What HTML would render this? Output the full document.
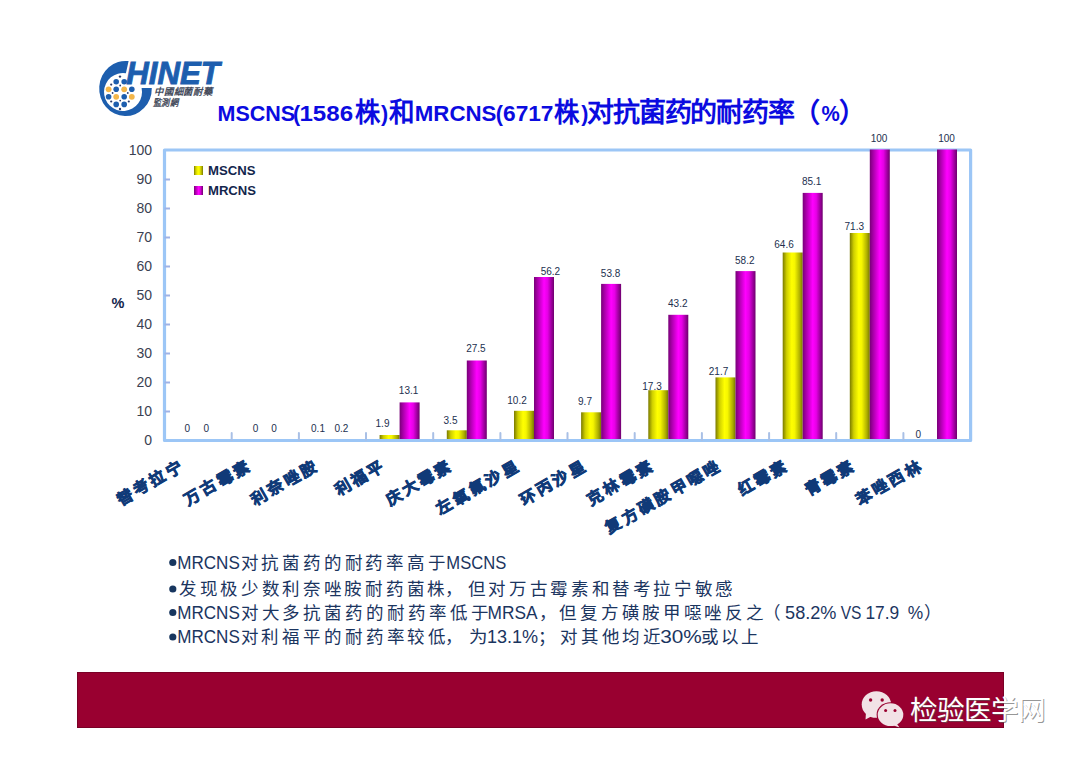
<!DOCTYPE html>
<html lang="zh-CN"><head><meta charset="utf-8">
<style>
html,body{margin:0;padding:0;}
body{width:1080px;height:760px;position:relative;overflow:hidden;background:#fff;font-family:"Liberation Sans",sans-serif;}
.abs{position:absolute;}
svg text{font-family:"Liberation Sans",sans-serif;}
svg text.yl{font-size:14px;fill:#3a4152;}
svg text.dl{font-size:10px;fill:#22304f;}
svg text.xl{font-size:15.7px;font-weight:bold;fill:#103a78;stroke:#103a78;stroke-width:0.7px;}
svg text.tl{font-size:21.5px;font-weight:bold;fill:#0b0be0;}
svg text.tc{font-size:27px;font-weight:bold;fill:#0b0be0;}
svg text.bl{font-size:17.5px;fill:#1b355f;}
svg text.bc{font-size:17.5px;font-weight:300;fill:#1b355f;}
#bar{left:76.8px;top:671.8px;width:927.2px;height:55.8px;box-sizing:border-box;border:1px solid #7a0026;background:#990030;}
#wm{left:910px;top:695px;font-size:27.5px;line-height:32px;color:#fff;text-shadow:1.3px 1.3px 0.6px rgba(90,90,90,.65);white-space:nowrap;}
</style></head><body>
<svg class="abs" style="left:0;top:0" width="1080" height="760" viewBox="0 0 1080 760">
<defs>
<linearGradient id="gy" x1="0" x2="1" y1="0" y2="0">
<stop offset="0" stop-color="#7a7a00"/><stop offset="0.2" stop-color="#cfcf00"/><stop offset="0.45" stop-color="#ffff00"/><stop offset="0.6" stop-color="#f6f600"/><stop offset="0.85" stop-color="#b0b000"/><stop offset="1" stop-color="#787800"/>
</linearGradient>
<linearGradient id="gm" x1="0" x2="1" y1="0" y2="0">
<stop offset="0" stop-color="#780078"/><stop offset="0.2" stop-color="#b000b0"/><stop offset="0.5" stop-color="#ff00ff"/><stop offset="0.68" stop-color="#e600e6"/><stop offset="0.88" stop-color="#9a009a"/><stop offset="1" stop-color="#6e006e"/>
</linearGradient>
</defs>
<rect x="164.5" y="150" width="806.1" height="290.5" fill="none" stroke="#9cc6f6" stroke-width="3.2" stroke-linejoin="round"/>
<rect x="312.4" y="440.2" width="20" height="-1.2" fill="url(#gy)"/>
<rect x="332.4" y="439.9" width="20" height="-0.9" fill="url(#gm)"/>
<rect x="379.6" y="435.0" width="20" height="4.0" fill="url(#gy)"/>
<rect x="399.6" y="402.4" width="20" height="36.6" fill="url(#gm)"/>
<rect x="446.8" y="430.3" width="20" height="8.7" fill="url(#gy)"/>
<rect x="466.8" y="360.5" width="20" height="78.5" fill="url(#gm)"/>
<rect x="514.0" y="410.8" width="20" height="28.2" fill="url(#gy)"/>
<rect x="534.0" y="277.0" width="20" height="162.0" fill="url(#gm)"/>
<rect x="581.1" y="412.3" width="20" height="26.7" fill="url(#gy)"/>
<rect x="601.1" y="283.9" width="20" height="155.1" fill="url(#gm)"/>
<rect x="648.3" y="390.2" width="20" height="48.8" fill="url(#gy)"/>
<rect x="668.3" y="314.8" width="20" height="124.2" fill="url(#gm)"/>
<rect x="715.5" y="377.4" width="20" height="61.6" fill="url(#gy)"/>
<rect x="735.5" y="271.1" width="20" height="167.9" fill="url(#gm)"/>
<rect x="782.7" y="252.5" width="20" height="186.5" fill="url(#gy)"/>
<rect x="802.7" y="192.9" width="20" height="246.1" fill="url(#gm)"/>
<rect x="849.8" y="233.0" width="20" height="206.0" fill="url(#gy)"/>
<rect x="869.8" y="149.5" width="20" height="289.5" fill="url(#gm)"/>
<rect x="937.0" y="149.5" width="20" height="289.5" fill="url(#gm)"/>
<line x1="231.7" y1="433" x2="231.7" y2="440" stroke="#a9c0e6" stroke-width="2" stroke-linecap="round"/>
<line x1="298.9" y1="433" x2="298.9" y2="440" stroke="#a9c0e6" stroke-width="2" stroke-linecap="round"/>
<line x1="366.0" y1="433" x2="366.0" y2="440" stroke="#a9c0e6" stroke-width="2" stroke-linecap="round"/>
<line x1="433.2" y1="433" x2="433.2" y2="440" stroke="#a9c0e6" stroke-width="2" stroke-linecap="round"/>
<line x1="500.4" y1="433" x2="500.4" y2="440" stroke="#a9c0e6" stroke-width="2" stroke-linecap="round"/>
<line x1="567.5" y1="433" x2="567.5" y2="440" stroke="#a9c0e6" stroke-width="2" stroke-linecap="round"/>
<line x1="634.7" y1="433" x2="634.7" y2="440" stroke="#a9c0e6" stroke-width="2" stroke-linecap="round"/>
<line x1="701.9" y1="433" x2="701.9" y2="440" stroke="#a9c0e6" stroke-width="2" stroke-linecap="round"/>
<line x1="769.1" y1="433" x2="769.1" y2="440" stroke="#a9c0e6" stroke-width="2" stroke-linecap="round"/>
<line x1="836.2" y1="433" x2="836.2" y2="440" stroke="#a9c0e6" stroke-width="2" stroke-linecap="round"/>
<line x1="903.4" y1="433" x2="903.4" y2="440" stroke="#a9c0e6" stroke-width="2" stroke-linecap="round"/>
<line x1="164.5" y1="411.5" x2="170" y2="411.5" stroke="#9fb3e6" stroke-width="2"/>
<line x1="164.5" y1="382.5" x2="170" y2="382.5" stroke="#9fb3e6" stroke-width="2"/>
<line x1="164.5" y1="353.5" x2="170" y2="353.5" stroke="#9fb3e6" stroke-width="2"/>
<line x1="164.5" y1="324.5" x2="170" y2="324.5" stroke="#9fb3e6" stroke-width="2"/>
<line x1="164.5" y1="295.5" x2="170" y2="295.5" stroke="#9fb3e6" stroke-width="2"/>
<line x1="164.5" y1="266.5" x2="170" y2="266.5" stroke="#9fb3e6" stroke-width="2"/>
<line x1="164.5" y1="237.5" x2="170" y2="237.5" stroke="#9fb3e6" stroke-width="2"/>
<line x1="164.5" y1="208.5" x2="170" y2="208.5" stroke="#9fb3e6" stroke-width="2"/>
<line x1="164.5" y1="179.5" x2="170" y2="179.5" stroke="#9fb3e6" stroke-width="2"/>
<text x="152" y="444.8" text-anchor="end" class="yl">0</text>
<text x="152" y="415.8" text-anchor="end" class="yl">10</text>
<text x="152" y="386.8" text-anchor="end" class="yl">20</text>
<text x="152" y="357.8" text-anchor="end" class="yl">30</text>
<text x="152" y="328.8" text-anchor="end" class="yl">40</text>
<text x="152" y="299.8" text-anchor="end" class="yl">50</text>
<text x="152" y="270.8" text-anchor="end" class="yl">60</text>
<text x="152" y="241.8" text-anchor="end" class="yl">70</text>
<text x="152" y="212.8" text-anchor="end" class="yl">80</text>
<text x="152" y="183.8" text-anchor="end" class="yl">90</text>
<text x="152" y="154.8" text-anchor="end" class="yl">100</text>
<text x="187.4" y="431.5" text-anchor="middle" class="dl">0</text>
<text x="255.6" y="431.5" text-anchor="middle" class="dl">0</text>
<text x="318" y="431.9" text-anchor="middle" class="dl">0.1</text>
<text x="382.5" y="426.7" text-anchor="middle" class="dl">1.9</text>
<text x="450.5" y="423.9" text-anchor="middle" class="dl">3.5</text>
<text x="517" y="403.8" text-anchor="middle" class="dl">10.2</text>
<text x="585" y="404.5" text-anchor="middle" class="dl">9.7</text>
<text x="652" y="390.0" text-anchor="middle" class="dl">17.3</text>
<text x="718.5" y="375.3" text-anchor="middle" class="dl">21.7</text>
<text x="784" y="247.6" text-anchor="middle" class="dl">64.6</text>
<text x="854.3" y="230.0" text-anchor="middle" class="dl">71.3</text>
<text x="918.4" y="437.7" text-anchor="middle" class="dl">0</text>
<text x="206.4" y="431.5" text-anchor="middle" class="dl">0</text>
<text x="274" y="431.5" text-anchor="middle" class="dl">0</text>
<text x="341.4" y="431.9" text-anchor="middle" class="dl">0.2</text>
<text x="408.6" y="394.3" text-anchor="middle" class="dl">13.1</text>
<text x="475.9" y="352.2" text-anchor="middle" class="dl">27.5</text>
<text x="550.4" y="274.5" text-anchor="middle" class="dl">56.2</text>
<text x="610.6" y="277.0" text-anchor="middle" class="dl">53.8</text>
<text x="677.8" y="306.8" text-anchor="middle" class="dl">43.2</text>
<text x="744.8" y="263.8" text-anchor="middle" class="dl">58.2</text>
<text x="811.7" y="184.5" text-anchor="middle" class="dl">85.1</text>
<text x="879" y="142.1" text-anchor="middle" class="dl">100</text>
<text x="946.5" y="142.0" text-anchor="middle" class="dl">100</text>
<text transform="translate(125.04,497.00) rotate(-30.0)" x="0" y="0" text-anchor="middle" dominant-baseline="central" class="xl">替</text>
<text transform="translate(141.32,487.60) rotate(-30.0)" x="0" y="0" text-anchor="middle" dominant-baseline="central" class="xl">考</text>
<text transform="translate(157.61,478.20) rotate(-30.0)" x="0" y="0" text-anchor="middle" dominant-baseline="central" class="xl">拉</text>
<text transform="translate(173.89,468.80) rotate(-30.0)" x="0" y="0" text-anchor="middle" dominant-baseline="central" class="xl">宁</text>
<text transform="translate(192.22,497.00) rotate(-30.0)" x="0" y="0" text-anchor="middle" dominant-baseline="central" class="xl">万</text>
<text transform="translate(208.50,487.60) rotate(-30.0)" x="0" y="0" text-anchor="middle" dominant-baseline="central" class="xl">古</text>
<text transform="translate(224.78,478.20) rotate(-30.0)" x="0" y="0" text-anchor="middle" dominant-baseline="central" class="xl">霉</text>
<text transform="translate(241.06,468.80) rotate(-30.0)" x="0" y="0" text-anchor="middle" dominant-baseline="central" class="xl">素</text>
<text transform="translate(259.39,497.00) rotate(-30.0)" x="0" y="0" text-anchor="middle" dominant-baseline="central" class="xl">利</text>
<text transform="translate(275.67,487.60) rotate(-30.0)" x="0" y="0" text-anchor="middle" dominant-baseline="central" class="xl">奈</text>
<text transform="translate(291.96,478.20) rotate(-30.0)" x="0" y="0" text-anchor="middle" dominant-baseline="central" class="xl">唑</text>
<text transform="translate(308.24,468.80) rotate(-30.0)" x="0" y="0" text-anchor="middle" dominant-baseline="central" class="xl">胺</text>
<text transform="translate(342.85,487.60) rotate(-30.0)" x="0" y="0" text-anchor="middle" dominant-baseline="central" class="xl">利</text>
<text transform="translate(359.13,478.20) rotate(-30.0)" x="0" y="0" text-anchor="middle" dominant-baseline="central" class="xl">福</text>
<text transform="translate(375.41,468.80) rotate(-30.0)" x="0" y="0" text-anchor="middle" dominant-baseline="central" class="xl">平</text>
<text transform="translate(393.74,497.00) rotate(-30.0)" x="0" y="0" text-anchor="middle" dominant-baseline="central" class="xl">庆</text>
<text transform="translate(410.02,487.60) rotate(-30.0)" x="0" y="0" text-anchor="middle" dominant-baseline="central" class="xl">大</text>
<text transform="translate(426.31,478.20) rotate(-30.0)" x="0" y="0" text-anchor="middle" dominant-baseline="central" class="xl">霉</text>
<text transform="translate(442.59,468.80) rotate(-30.0)" x="0" y="0" text-anchor="middle" dominant-baseline="central" class="xl">素</text>
<text transform="translate(444.64,506.40) rotate(-30.0)" x="0" y="0" text-anchor="middle" dominant-baseline="central" class="xl">左</text>
<text transform="translate(460.92,497.00) rotate(-30.0)" x="0" y="0" text-anchor="middle" dominant-baseline="central" class="xl">氧</text>
<text transform="translate(477.20,487.60) rotate(-30.0)" x="0" y="0" text-anchor="middle" dominant-baseline="central" class="xl">氟</text>
<text transform="translate(493.48,478.20) rotate(-30.0)" x="0" y="0" text-anchor="middle" dominant-baseline="central" class="xl">沙</text>
<text transform="translate(509.76,468.80) rotate(-30.0)" x="0" y="0" text-anchor="middle" dominant-baseline="central" class="xl">星</text>
<text transform="translate(528.09,497.00) rotate(-30.0)" x="0" y="0" text-anchor="middle" dominant-baseline="central" class="xl">环</text>
<text transform="translate(544.37,487.60) rotate(-30.0)" x="0" y="0" text-anchor="middle" dominant-baseline="central" class="xl">丙</text>
<text transform="translate(560.66,478.20) rotate(-30.0)" x="0" y="0" text-anchor="middle" dominant-baseline="central" class="xl">沙</text>
<text transform="translate(576.94,468.80) rotate(-30.0)" x="0" y="0" text-anchor="middle" dominant-baseline="central" class="xl">星</text>
<text transform="translate(595.27,497.00) rotate(-30.0)" x="0" y="0" text-anchor="middle" dominant-baseline="central" class="xl">克</text>
<text transform="translate(611.55,487.60) rotate(-30.0)" x="0" y="0" text-anchor="middle" dominant-baseline="central" class="xl">林</text>
<text transform="translate(627.83,478.20) rotate(-30.0)" x="0" y="0" text-anchor="middle" dominant-baseline="central" class="xl">霉</text>
<text transform="translate(644.11,468.80) rotate(-30.0)" x="0" y="0" text-anchor="middle" dominant-baseline="central" class="xl">素</text>
<text transform="translate(613.60,525.20) rotate(-30.0)" x="0" y="0" text-anchor="middle" dominant-baseline="central" class="xl">复</text>
<text transform="translate(629.88,515.80) rotate(-30.0)" x="0" y="0" text-anchor="middle" dominant-baseline="central" class="xl">方</text>
<text transform="translate(646.16,506.40) rotate(-30.0)" x="0" y="0" text-anchor="middle" dominant-baseline="central" class="xl">磺</text>
<text transform="translate(662.44,497.00) rotate(-30.0)" x="0" y="0" text-anchor="middle" dominant-baseline="central" class="xl">胺</text>
<text transform="translate(678.72,487.60) rotate(-30.0)" x="0" y="0" text-anchor="middle" dominant-baseline="central" class="xl">甲</text>
<text transform="translate(695.01,478.20) rotate(-30.0)" x="0" y="0" text-anchor="middle" dominant-baseline="central" class="xl">噁</text>
<text transform="translate(711.29,468.80) rotate(-30.0)" x="0" y="0" text-anchor="middle" dominant-baseline="central" class="xl">唑</text>
<text transform="translate(745.90,487.60) rotate(-30.0)" x="0" y="0" text-anchor="middle" dominant-baseline="central" class="xl">红</text>
<text transform="translate(762.18,478.20) rotate(-30.0)" x="0" y="0" text-anchor="middle" dominant-baseline="central" class="xl">霉</text>
<text transform="translate(778.46,468.80) rotate(-30.0)" x="0" y="0" text-anchor="middle" dominant-baseline="central" class="xl">素</text>
<text transform="translate(813.07,487.60) rotate(-30.0)" x="0" y="0" text-anchor="middle" dominant-baseline="central" class="xl">青</text>
<text transform="translate(829.36,478.20) rotate(-30.0)" x="0" y="0" text-anchor="middle" dominant-baseline="central" class="xl">霉</text>
<text transform="translate(845.64,468.80) rotate(-30.0)" x="0" y="0" text-anchor="middle" dominant-baseline="central" class="xl">素</text>
<text transform="translate(863.97,497.00) rotate(-30.0)" x="0" y="0" text-anchor="middle" dominant-baseline="central" class="xl">苯</text>
<text transform="translate(880.25,487.60) rotate(-30.0)" x="0" y="0" text-anchor="middle" dominant-baseline="central" class="xl">唑</text>
<text transform="translate(896.53,478.20) rotate(-30.0)" x="0" y="0" text-anchor="middle" dominant-baseline="central" class="xl">西</text>
<text transform="translate(912.81,468.80) rotate(-30.0)" x="0" y="0" text-anchor="middle" dominant-baseline="central" class="xl">林</text>
<text x="217.56" y="120.9" class="tl" textLength="77.68" lengthAdjust="spacingAndGlyphs">MSCNS</text>
<text x="292.93" y="120.9" class="tl">(</text>
<text x="299.48" y="120.9" class="tl" textLength="53.59" lengthAdjust="spacingAndGlyphs">1586</text>
<text x="354.70" y="122.2" class="tc" textLength="25.18" lengthAdjust="spacingAndGlyphs">株</text>
<text x="381.08" y="120.9" class="tl">)</text>
<text x="388.74" y="122.2" class="tc" textLength="25.56" lengthAdjust="spacingAndGlyphs">和</text>
<text x="414.81" y="120.9" class="tl" textLength="81.66" lengthAdjust="spacingAndGlyphs">MRCNS</text>
<text x="495.73" y="120.9" class="tl">(</text>
<text x="503.07" y="120.9" class="tl" textLength="50.43" lengthAdjust="spacingAndGlyphs">6717</text>
<text x="554.49" y="122.2" class="tc" textLength="25.28" lengthAdjust="spacingAndGlyphs">株</text>
<text x="581.18" y="120.9" class="tl">)</text>
<text x="587.14 612.96 638.79 664.62 690.45 716.28 742.11 767.93" y="122.2" class="tc">对抗菌药的耐药率</text>
<text x="792.60" y="122.2" class="tc">（</text>
<text x="821.49" y="120.9" class="tl" textLength="18.25" lengthAdjust="spacingAndGlyphs">%</text>
<text x="839.38" y="122.2" class="tc">）</text>
<circle cx="172.8" cy="562.5" r="3.6" fill="#18365f"/>
<text x="177.20" y="568.5" class="bl" textLength="62.58" lengthAdjust="spacingAndGlyphs">MRCNS</text>
<text x="240.59 261.40 282.21 303.02 323.83 344.64 365.45 386.26 407.07 427.88" y="568.5" class="bc">对抗菌药的耐药率高于</text>
<text x="446.34" y="568.5" class="bl" textLength="59.92" lengthAdjust="spacingAndGlyphs">MSCNS</text>
<circle cx="172.8" cy="589.0" r="3.6" fill="#18365f"/>
<text x="179.05 199.73 220.41 241.08 261.76 282.44 303.11 323.79 344.47 365.14 385.82 406.50 427.17" y="595.0" class="bc">发现极少数利奈唑胺耐药菌株</text>
<text x="445.42" y="595.0" class="bc">，</text>
<text x="467.74 488.37 509.00 529.63 550.26 570.89 591.52 612.16 632.79 653.42 674.05 694.68 715.31" y="595.0" class="bc">但对万古霉素和替考拉宁敏感</text>
<circle cx="172.8" cy="612.5" r="3.6" fill="#18365f"/>
<text x="177.20" y="618.5" class="bl" textLength="62.58" lengthAdjust="spacingAndGlyphs">MRCNS</text>
<text x="240.59 261.53 282.48 303.42 324.37 345.31 366.26 387.20 408.15 429.09 450.04 470.98" y="618.5" class="bc">对大多抗菌药的耐药率低于</text>
<text x="487.58" y="618.5" class="bl" textLength="49.95" lengthAdjust="spacingAndGlyphs">MRSA</text>
<text x="538.92" y="618.5" class="bc">，</text>
<text x="559.44 580.14 600.85 621.55 642.25 662.96 683.66 704.36 725.07 745.77" y="618.5" class="bc">但复方磺胺甲噁唑反之</text>
<text x="762.50" y="618.5" class="bc">（</text>
<text x="785.07" y="618.5" class="bl" textLength="51.37" lengthAdjust="spacingAndGlyphs">58.2%</text>
<text x="840.73" y="618.5" class="bl" textLength="20.78" lengthAdjust="spacingAndGlyphs">VS</text>
<text x="865.38" y="618.5" class="bl" textLength="33.74" lengthAdjust="spacingAndGlyphs">17.9</text>
<text x="907.68" y="618.5" class="bl" textLength="15.44" lengthAdjust="spacingAndGlyphs">%</text>
<text x="924.18" y="618.5" class="bc">）</text>
<circle cx="172.8" cy="637.0" r="3.6" fill="#18365f"/>
<text x="177.20" y="643.0" class="bl" textLength="62.58" lengthAdjust="spacingAndGlyphs">MRCNS</text>
<text x="240.59 261.44 282.29 303.13 323.98 344.83 365.68 386.52 407.37 428.22" y="643.0" class="bc">对利福平的耐药率较低</text>
<text x="445.42" y="643.0" class="bc">，</text>
<text x="468.96" y="643.0" class="bc" textLength="17.96" lengthAdjust="spacingAndGlyphs">为</text>
<text x="486.92" y="643.0" class="bl" textLength="51.22" lengthAdjust="spacingAndGlyphs">13.1%</text>
<text x="538.12" y="643.0" class="bc">；</text>
<text x="560.09 580.88 601.66 622.45 643.24" y="643.0" class="bc">对其他均近</text>
<text x="660.21" y="643.0" class="bl" textLength="41.53" lengthAdjust="spacingAndGlyphs">30%</text>
<text x="700.77 721.02 741.26" y="643.0" class="bc">或以上</text>
<rect x="194" y="166" width="9" height="9" fill="url(#gy)"/>
<rect x="194" y="186" width="9" height="9" fill="url(#gm)"/>
<text x="208" y="175" font-weight="bold" font-size="12.8" fill="#13264d" textLength="47.5" lengthAdjust="spacingAndGlyphs">MSCNS</text>
<text x="208" y="195" font-weight="bold" font-size="12.8" fill="#13264d" textLength="48" lengthAdjust="spacingAndGlyphs">MRCNS</text>
<text x="111.5" y="308" font-weight="bold" font-size="14.5" fill="#13264d">%</text>
</svg>
<svg class="abs" style="left:0;top:0" width="240" height="130" viewBox="0 0 240 130">
<path d="M128.6 61.1 A26.3 27.6 0 1 0 151.8 88.0 L141.6 88.0 A19 19 0 1 1 125.9 73.2 Z" fill="#1d5eae"/>
<g fill="#1d5eae">
<circle cx="116.2" cy="81.7" r="2.8"/><circle cx="124.2" cy="81.7" r="2.8"/>
<circle cx="116.2" cy="89.3" r="2.8"/><circle cx="131.8" cy="89.3" r="2.8"/>
<circle cx="108.6" cy="96.8" r="2.8"/><circle cx="124.2" cy="96.8" r="2.8"/>
<circle cx="116.2" cy="104.4" r="2.8"/><circle cx="124.2" cy="104.4" r="2.8"/>
</g>
<g fill="#f3b64a">
<circle cx="108.6" cy="89.3" r="2.9"/><circle cx="124.2" cy="89.3" r="2.9"/>
<circle cx="116.2" cy="96.8" r="2.9"/><circle cx="131.8" cy="96.8" r="2.9"/>
</g>
<g fill="#2b3b6b">
<circle cx="120" cy="76.6" r="1.2"/><circle cx="120" cy="109" r="1.2"/>
<circle cx="111.2" cy="84.6" r="1.1"/><circle cx="128.8" cy="101.5" r="1.1"/>
<circle cx="111.2" cy="101.5" r="1.1"/><circle cx="120.2" cy="85.5" r="0.9"/>
<circle cx="112.6" cy="93" r="0.9"/><circle cx="127.8" cy="93" r="0.9"/><circle cx="120.2" cy="100.6" r="0.9"/>
</g>
<text x="126.3" y="83.6" font-weight="bold" font-style="italic" font-size="31.3" fill="#1d5eae" stroke="#1d5eae" stroke-width="0.9" textLength="93.5" lengthAdjust="spacingAndGlyphs">HINET</text>
<text x="154" y="95.3" font-size="9.6" font-weight="bold" font-style="italic" fill="#454c5c" textLength="58.5" lengthAdjust="spacingAndGlyphs">中國細菌耐藥</text>
<text x="152.5" y="106" font-size="9.6" font-weight="bold" font-style="italic" fill="#454c5c" textLength="26" lengthAdjust="spacingAndGlyphs">監測網</text>
</svg>
<div id="bar" class="abs"></div>
<div id="wm" class="abs"><svg width="48" height="42" viewBox="0 0 48 42" style="position:absolute;left:-50px;top:-5px">
<g fill="#f2e2e6">
<ellipse cx="16.4" cy="14.5" rx="14.7" ry="13.3"/><path d="M6 22 L5.5 29.5 L13 25.5 Z"/>
</g>
<ellipse cx="30.5" cy="24.7" rx="13.9" ry="12.5" fill="#990030"/>
<g fill="#f2e2e6"><ellipse cx="30.5" cy="24.7" rx="12.8" ry="11.4"/><path d="M35.5 32 L39.5 37.5 L31 34.5 Z"/></g>
<g fill="#990030"><circle cx="10.6" cy="10" r="1.7"/><circle cx="22.2" cy="10" r="1.7"/><circle cx="25.6" cy="20.6" r="1.5"/><circle cx="35" cy="20.6" r="1.5"/></g>
</svg>检验医学网</div>
</body></html>
